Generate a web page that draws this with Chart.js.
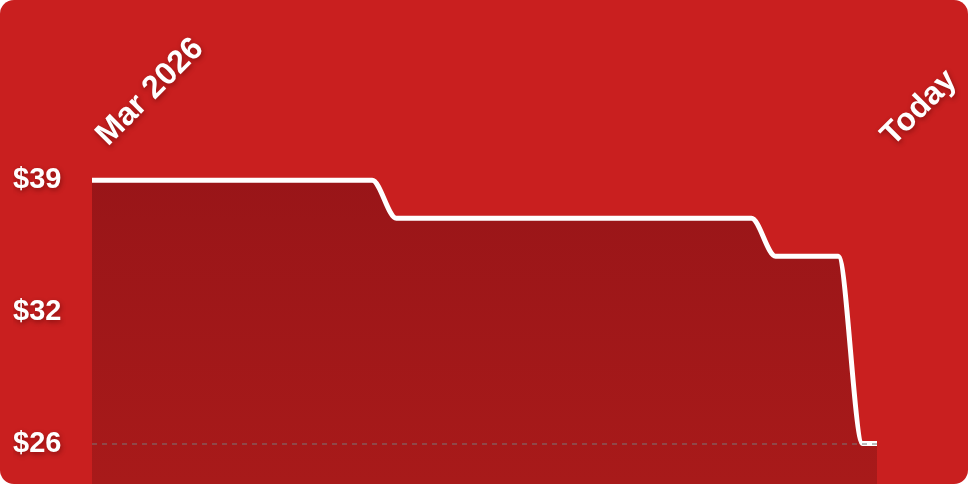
<!DOCTYPE html>
<html>
<head>
<meta charset="utf-8">
<script src="https://cdn.jsdelivr.net/npm/chart.js@4.4.1/dist/chart.umd.min.js"></script>
<style>
    html, body { margin: 0; padding: 0; background: #fff; }
    .card {
        width: 968px;
        height: 484px;
        background: #c91f1f;
        border-radius: 14px;
        overflow: hidden;
        position: relative;
    }
    #priceChart { display: block; }
</style>
</head>
<body>
<div class="card">
    <canvas id="priceChart" width="968" height="484"></canvas>
</div>
<script>
    // days since 1 Mar 2026, price on that day
    const priceDays = [0, 11.6, 12.6, 27.3, 28.3, 30.9, 31.9, 32.5];
    const prices = [38.99, 38.99, 37.11, 37.11, 35.24, 35.24, 25.99, 25.99];
    const dayLabels = ['Mar 2026', 'Today'];
    const priceTicks = [25.99, 32.49, 38.99];
    const priceMin = 23.99;
    const priceMax = 39.99;

    const FAMILY = '"Liberation Sans", Arial, sans-serif';

    // soft drop shadow on the axis labels only
    const labelShadow = {
        id: 'labelShadow',
        beforeDraw(chart) {
            const ctx = chart.ctx;
            ctx.save();
            ctx.shadowColor = 'rgba(60,0,0,0.45)';
            ctx.shadowBlur = 5;
            ctx.shadowOffsetX = 1;
            ctx.shadowOffsetY = 2;
        },
        beforeDatasetsDraw(chart) {
            chart.ctx.restore();
        }
    };

    function fillGradient(context) {
        const area = context.chart.chartArea;
        if (!area) return '#a01719';
        const g = context.chart.ctx.createLinearGradient(0, area.top, 0, area.bottom);
        g.addColorStop(0, '#981518');
        g.addColorStop(1, '#a81a1a');
        return g;
    }

    const firstDay = priceDays[0];
    const lastDay = priceDays[priceDays.length - 1];

    new Chart(document.getElementById('priceChart'), {
        type: 'line',
        data: {
            datasets: [{
                data: priceDays.map((d, i) => ({ x: d, y: prices[i] })),
                borderColor: '#ffffff',
                borderWidth: 5,
                backgroundColor: fillGradient,
                fill: 'start',
                cubicInterpolationMode: 'monotone',
                pointRadius: 0,
                pointHoverRadius: 0
            }]
        },
        options: {
            responsive: false,
            animation: false,
            events: [],
            layout: { padding: { left: 13, right: 91, top: 0, bottom: 0 } },
            plugins: {
                legend: { display: false },
                tooltip: { enabled: false }
            },
            scales: {
                x: {
                    type: 'linear',
                    position: 'top',
                    min: firstDay,
                    max: lastDay,
                    afterBuildTicks: scale => {
                        scale.ticks = [{ value: firstDay }, { value: lastDay }];
                    },
                    afterFit: scale => { scale.height = 160; },
                    grid: { display: false, drawTicks: false },
                    border: { display: false },
                    ticks: {
                        autoSkip: false,
                        minRotation: 45,
                        maxRotation: 45,
                        padding: 6,
                        labelOffset: 37,
                        color: '#ffffff',
                        font: { family: FAMILY, size: 32, weight: 'bold' },
                        callback: value => value === firstDay ? dayLabels[0] : dayLabels[1]
                    }
                },
                y: {
                    min: priceMin,
                    max: priceMax,
                    afterBuildTicks: scale => {
                        scale.ticks = priceTicks.map(v => ({ value: v }));
                    },
                    afterFit: scale => {
                        scale.width = 79;
                        // let the plot run to the bottom edge
                        scale.paddingTop = 0;
                        scale.paddingBottom = 0;
                    },
                    grid: {
                        z: 1,
                        drawTicks: false,
                        lineWidth: 2,
                        color: ctx => ctx.tick && ctx.tick.value === priceTicks[0]
                            ? 'rgba(120,120,120,0.5)'
                            : 'rgba(0,0,0,0)'
                    },
                    border: { display: false, dash: [5, 5] },
                    ticks: {
                        padding: 0,
                        crossAlign: 'far',
                        color: '#ffffff',
                        font: { family: FAMILY, size: 29, weight: 'bold' },
                        callback: value => '$' + Math.round(value)
                    }
                }
            }
        },
        plugins: [labelShadow]
    });
</script>
</body>
</html>
